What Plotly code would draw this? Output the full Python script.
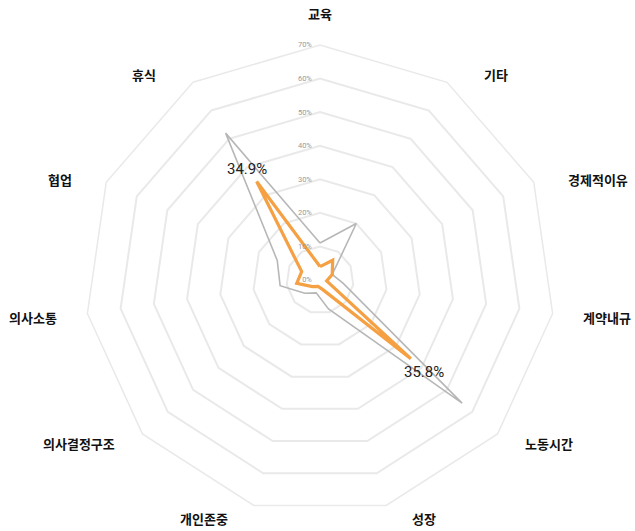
import math
import plotly.graph_objects as go

categories = ["교육", "기타", "경제적이유", "계약내규", "노동시간", "성장",
              "개인존중", "의사결정구조", "의사소통", "협업", "휴식"]
gray_values = [11, 20, 4, 7, 56, 9, 4, 6, 12, 14, 52]
orange_values = [4, 7, 4, 2, 35.8, 3, 2, 3, 7, 6, 34.9]
label_cats = ["휴식", "노동시간"]
label_values = [34.9, 35.8]
radial_ticks = [0, 10, 20, 30, 40, 50, 60, 70]
r_max = 70

W, H = 635, 531
CX, CY, R = 320, 280, 235  # polar centre and outer radius in pixels

fig = go.Figure()
fig.add_trace(go.Scatterpolar(
    r=gray_values + gray_values[:1], theta=categories + categories[:1],
    mode="lines", line=dict(color="#b7b7b7", width=1.6), showlegend=False,
    hoverinfo="skip"))
fig.add_trace(go.Scatterpolar(
    r=orange_values + orange_values[:1], theta=categories + categories[:1],
    mode="lines", line=dict(color="#f4a043", width=3.2), showlegend=False,
    hoverinfo="skip"))


def to_px(i, r):
    phi = math.radians(i * 360 / len(categories))
    return CX + r * math.sin(phi), CY - r * math.cos(phi), phi


annotations = []
# category labels placed outside the outer polygon
for i, cat in enumerate(categories):
    px, py, phi = to_px(i, R)
    s, c = math.sin(phi), math.cos(phi)
    if abs(s) < 1e-6:
        xanchor, xshift = "center", 0
        yshift = 32
    else:
        xanchor = "left" if s > 0 else "right"
        off = 29.5 + 6 * c
        xshift = off if s > 0 else -off
        yshift = 12 * c - 2
    annotations.append(dict(
        x=px / W, y=1 - py / H, xref="paper", yref="paper", text=cat,
        showarrow=False, xanchor=xanchor, yanchor="middle",
        xshift=xshift, yshift=yshift,
        font=dict(family="Noto Sans CJK KR", size=13, color="#111111", weight="bold")))

# value labels just outside the orange vertices
for cat, v in zip(label_cats, label_values):
    i = categories.index(cat)
    px, py, phi = to_px(i, v / r_max * R + 17)
    annotations.append(dict(
        x=px / W, y=1 - py / H, xref="paper", yref="paper", text=f"{v}%",
        showarrow=False, xanchor="center", yanchor="middle", yshift=-2,
        font=dict(family="Roboto", size=15, color="#222222")))

fig.update_layout(
    width=W, height=H,
    margin=dict(l=0, r=0, t=0, b=0),
    paper_bgcolor="white", plot_bgcolor="white",
    annotations=annotations,
    polar=dict(
        domain=dict(x=[(CX - R) / W, (CX + R) / W],
                    y=[1 - (CY + R) / H, 1 - (CY - R) / H]),
        bgcolor="white",
        gridshape="linear",
        radialaxis=dict(
            range=[0, r_max], tickvals=radial_ticks,
            ticktext=[f"{v}%" for v in radial_ticks],
            angle=90, tickangle=90, side="counterclockwise",
            showline=False, ticks="outside", ticklen=5, tickcolor="rgba(0,0,0,0)",
            gridcolor="#e9e9e9", gridwidth=1.5,
            tickfont=dict(family="Roboto", size=7.5, color="#999999"),
        ),
        angularaxis=dict(
            direction="clockwise", rotation=90,
            showgrid=False, showline=True, linecolor="#e9e9e9", linewidth=1.5,
            showticklabels=False, ticks="",
        ),
    ),
)

fig.write_html("out.html")
